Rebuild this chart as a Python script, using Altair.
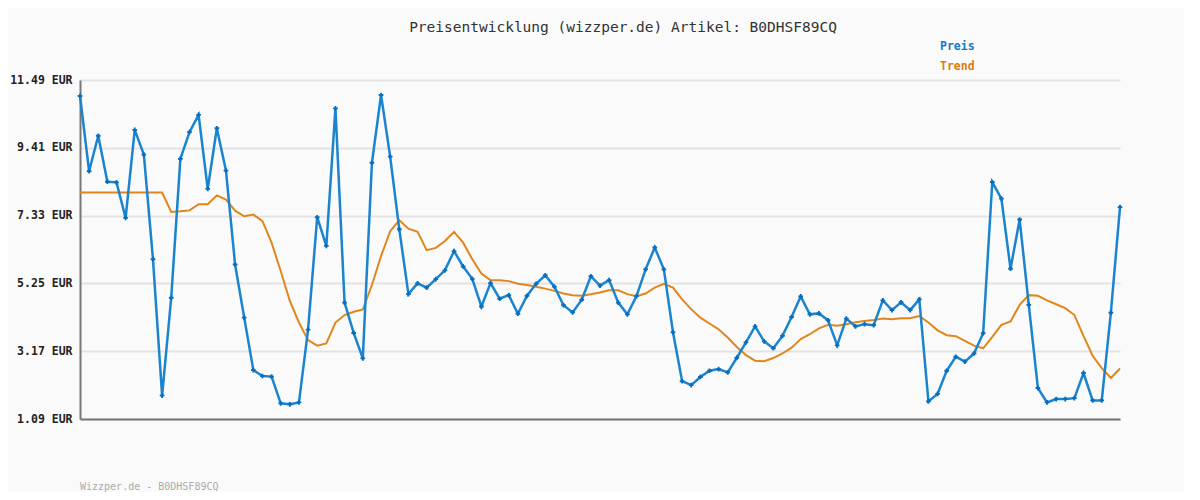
import altair as alt
import pandas as pd

preis = [11.00, 8.69, 9.78, 8.37, 8.35, 7.26, 9.96, 9.20, 5.99, 1.81,
         4.81, 9.07, 9.89, 10.42, 8.15, 10.01, 8.71, 5.83, 4.20, 2.59,
         2.41, 2.39, 1.57, 1.54, 1.60, 3.83, 7.28, 6.40, 10.62, 4.66,
         3.73, 2.95, 8.95, 11.03, 9.14, 6.91, 4.92, 5.25, 5.12, 5.38,
         5.65, 6.24, 5.77, 5.39, 4.54, 5.26, 4.78, 4.89, 4.32, 4.87,
         5.24, 5.50, 5.15, 4.58, 4.36, 4.75, 5.47, 5.18, 5.35, 4.66,
         4.30, 4.86, 5.68, 6.35, 5.68, 3.75, 2.25, 2.13, 2.38, 2.57,
         2.62, 2.52, 2.97, 3.44, 3.93, 3.47, 3.26, 3.64, 4.22, 4.85,
         4.30, 4.33, 4.12, 3.35, 4.17, 3.93, 4.00, 3.97, 4.73, 4.43,
         4.67, 4.43, 4.76, 1.63, 1.86, 2.57, 3.00, 2.85, 3.10, 3.72,
         8.36, 7.85, 5.70, 7.21, 4.59, 2.04, 1.60, 1.70, 1.70, 1.73,
         2.50, 1.66, 1.66, 4.35, 7.59]

trend = [8.04, 8.04, 8.04, 8.04, 8.04, 8.04, 8.04, 8.04, 8.04, 8.04,
         7.44, 7.46, 7.49, 7.68, 7.68, 7.95, 7.82, 7.48, 7.31, 7.36,
         7.16, 6.50, 5.63, 4.71, 4.05, 3.51, 3.34, 3.41, 4.05, 4.28,
         4.38, 4.45, 5.20, 6.09, 6.85, 7.19, 6.93, 6.83, 6.27, 6.34,
         6.55, 6.83, 6.50, 5.99, 5.55, 5.35, 5.35, 5.32, 5.24, 5.20,
         5.15, 5.09, 5.02, 4.94, 4.89, 4.87, 4.92, 4.97, 5.04, 5.04,
         4.92, 4.86, 4.94, 5.12, 5.24, 5.12, 4.76, 4.46, 4.20, 4.02,
         3.84, 3.59, 3.30, 3.05, 2.88, 2.86, 2.96, 3.10, 3.28, 3.54,
         3.69, 3.87, 3.98, 3.95, 4.00, 4.06, 4.10, 4.13, 4.17, 4.15,
         4.18, 4.18, 4.25, 4.05, 3.81, 3.66, 3.63, 3.49, 3.34, 3.26,
         3.61, 3.98, 4.08, 4.59, 4.89, 4.87, 4.73, 4.61, 4.49, 4.28,
         3.64, 3.03, 2.65, 2.35, 2.64]

y_ticks = [1.09, 3.17, 5.25, 7.33, 9.41, 11.49]
title_text = "Preisentwicklung (wizzper.de) Artikel: B0DHSF89CQ"
footer_text = "Wizzper.de - B0DHSF89CQ"
series_names = ["Preis", "Trend"]

BLUE = "#1a84cf"
BLUE_DARK = "#0a6dbb"
ORANGE = "#e0861c"
MONO = "DejaVu Sans Mono"

idx = list(range(len(preis)))
df = pd.DataFrame({"i": idx, "preis": preis, "trend": trend})

x_enc = alt.X("i:Q", scale=alt.Scale(domain=[0, len(preis) - 1], nice=False, zero=False),
              axis=alt.Axis(labels=False, ticks=False, grid=False, domainColor="#777777",
                            domainWidth=2, title=None))
y_scale = alt.Scale(domain=[y_ticks[0], y_ticks[-1]], nice=False, zero=False)
y_axis = alt.Axis(values=y_ticks, labelExpr="format(datum.value, '.2f') + ' EUR'",
                  labelFont=MONO, labelFontWeight="bold", labelFontSize=11.5,
                  labelColor="#222222", ticks=False, labelPadding=8,
                  gridColor="#e3e3e3", gridWidth=2, domainColor="#777777",
                  domainWidth=2, title=None)

base = alt.Chart(df)

trend_line = base.mark_line(color=ORANGE, strokeWidth=2).encode(
    x=x_enc, y=alt.Y("trend:Q", scale=y_scale, axis=y_axis))
preis_line = base.mark_line(color=BLUE, strokeWidth=2.5).encode(
    x=x_enc, y=alt.Y("preis:Q", scale=y_scale, axis=y_axis))
preis_pts = base.mark_point(shape="cross", filled=True, size=22, color=BLUE_DARK, opacity=1).encode(
    x=x_enc, y=alt.Y("preis:Q", scale=y_scale, axis=y_axis))

one = pd.DataFrame({"a": [0]})
title_mark = alt.Chart(one).mark_text(font=MONO, fontSize=14.5, color="#333333",
                                      align="center", baseline="middle").encode(
    x=alt.value(543), y=alt.value(-52), text=alt.value(title_text))
leg1 = alt.Chart(one).mark_text(font=MONO, fontSize=11.5, fontWeight="bold", color="#1478c4",
                                align="left", baseline="middle").encode(
    x=alt.value(860), y=alt.value(-33), text=alt.value(series_names[0]))
leg2 = alt.Chart(one).mark_text(font=MONO, fontSize=11.5, fontWeight="bold", color="#dc7c12",
                                align="left", baseline="middle").encode(
    x=alt.value(860), y=alt.value(-13), text=alt.value(series_names[1]))
footer = alt.Chart(one).mark_text(font=MONO, fontSize=10, color="#aaaaaa",
                                  align="left", baseline="middle").encode(
    x=alt.value(0), y=alt.value(407), text=alt.value(footer_text))

chart = alt.layer(trend_line, preis_line, preis_pts, title_mark, leg1, leg2, footer).properties(
    width=1040, height=339,
    autosize=alt.AutoSizeParams(type="none"),
    padding={"left": 72, "top": 72, "right": 64, "bottom": 73},
    background="#fafafa",
).configure_view(strokeWidth=0)

chart.save("out.html", embed_options={"renderer": "svg", "actions": False})
